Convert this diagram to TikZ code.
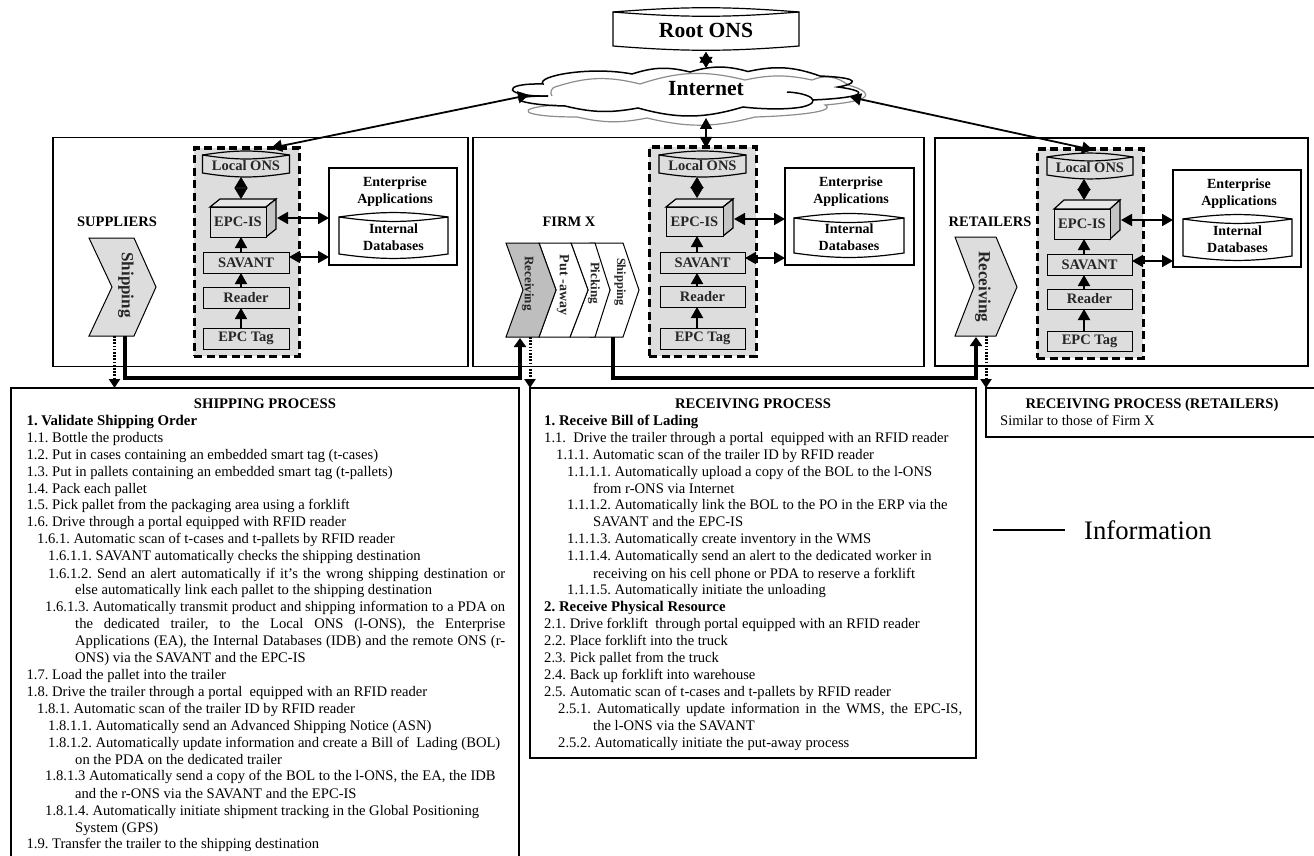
\documentclass[tikz,border=0pt]{standalone}
\usepackage{fontspec}
\setmainfont{Liberation Serif}
\usetikzlibrary{arrows.meta}
\frenchspacing
\definecolor{panelgray}{HTML}{DDDDDD}
\definecolor{cubetop}{HTML}{E8E8E8}
\definecolor{cubeside}{HTML}{C4C4C4}
\definecolor{recvgray}{HTML}{BEBEBE}
\definecolor{cloudgray}{HTML}{8C8C8C}
\newcounter{lbl}
\tikzset{
  x=1pt,y=-1pt,
  lab/.style={font=\fontsize{14.5}{17}\selectfont\bfseries,align=center,inner sep=0pt,text=black!85},
  elab/.style={font=\fontsize{14}{17}\selectfont\bfseries,align=center,inner sep=0pt},
  regionbox/.style={draw,line width=1.3pt,fill=none},
  panel/.style={draw,line width=3pt,dash pattern=on 8pt off 4.5pt,fill=panelgray,inner sep=0pt},
  device/.style={draw,line width=1pt,fill=panelgray,inner sep=0pt,lab},
  entbox/.style={draw,line width=1.2pt,fill=white,inner sep=0pt},
  procbox/.style={draw,line width=1.4pt,inner sep=0pt},
  chev/.style={draw,line width=1pt},
  chevlab/.style={inner sep=0pt,rotate=-90,font=\fontsize{17}{17}\selectfont\bfseries,text=black!85},
  arr/.style={line width=1.8pt,{Triangle[length=11pt,width=12pt]}-{Triangle[length=11pt,width=12pt]}},
  diam/.style={line width=.6pt,{Triangle[length=11pt,width=13pt]}-{Triangle[length=11pt,width=13pt]}},
  up/.style={line width=1.8pt,-{Triangle[length=11pt,width=12pt]}},
  flow/.style={line width=4.8pt,line join=miter,-{Triangle[length=9pt,width=12pt]}},
  dots/.style={line width=3pt,dash pattern=on 1.6pt off 1.6pt,-{Triangle[length=9pt,width=11pt]}},
  txt/.style={inner sep=0pt,anchor=base west,font=\fontsize{14.6}{15}\selectfont},
  txtb/.style={txt,font=\fontsize{14.8}{15}\selectfont\bfseries},
  ttl/.style={inner sep=0pt,anchor=base,font=\fontsize{14.65}{15}\selectfont\bfseries},
}
% line of text: x, y of mid line, text
\newcommand\tl[3]{\stepcounter{lbl}\node[txt] (t\thelbl) at (#1,#2+4.2) {#3};}
\newcommand\tb[3]{\stepcounter{lbl}\node[txtb] (t\thelbl) at (#1,#2+4.2) {#3};}
\newcommand\tj[4]{\stepcounter{lbl}\node[txt] (t\thelbl) at (#1,#2+4.2) {\makebox[#3pt][s]{#4}};}
% cylinder: name,x1,y1,x2,y2,r-bend,fill,style,text
\newcommand\cyl[9]{%
  \draw[line width=1.2pt,fill=#7] (#2,#3+4) to[bend left=#6] (#4,#3+4) -- (#4,#5-4) to[bend left=#6] (#2,#5-4) -- cycle;
  \draw[line width=1.2pt] (#2,#3+4) to[bend right=#6] (#4,#3+4);
  \node[#8,minimum width=#4pt-#2pt,minimum height=#5pt-#3pt] (#1) at ({(#2+#4)/2},{(#3+#5)/2+1.5}) {#9};}
% cube: name,x1,y1,x2,y2,dx,dy
\newcommand\cube[7]{%
  \draw[line width=1.2pt,fill=cubetop] (#2,#3) -- (#2+#6,#3-#7) -- (#4+#6,#3-#7) -- (#4,#3) -- cycle;
  \draw[line width=1.2pt,fill=cubeside] (#4,#3) -- (#4+#6,#3-#7) -- (#4+#6,#5-#7) -- (#4,#5) -- cycle;
  \node[device,minimum width=#4pt-#2pt,minimum height=#5pt-#3pt] (#1) at ({(#2+#4)/2},{(#3+#5)/2}) {EPC-IS};}
\begin{document}
\begin{tikzpicture}
\useasboundingbox (0,0) rectangle (1314,856);
% region boxes
\node[regionbox,minimum width=415pt,minimum height=229pt] (regS) at (260.5,252) {};
\node[regionbox,minimum width=451pt,minimum height=229pt] (regF) at (698.5,252) {};
\node[regionbox,minimum width=373pt,minimum height=228pt] (regR) at (1121.5,252) {};
% Root ONS and cloud
\cyl{root}{613}{8}{799}{50}{4.5}{white}{elab,font=\fontsize{21.6}{22}\selectfont\bfseries}{Root ONS}
% gray cloud
\draw[cloudgray,line width=1.2pt] (552,96) to[bend left=60] (555,87) to[bend left=16] (640,84)
  to[bend left=16] (745,80) to[bend left=12] (812,80) to[bend left=30] (848,85)
  .. controls (866,90) and (885,100) .. (825,105)
  .. controls (838,112) and (790,116) .. (755,117)
  to[bend left=14] (647,118) to[bend left=12] (577,117)
  .. controls (520,117) and (512,108) .. (556,105);
% black cloud
\draw[line width=1.5pt] (548,96) .. controls (505,97) and (498,83) .. (543,84)
  .. controls (536,76) and (590,66) .. (632,74)
  to[bend left=16] (690,72) to[bend left=16] (748,71.5) to[bend left=16] (820,76)
  .. controls (865,78) and (855,84) .. (838,87)
  .. controls (875,92) and (860,98) .. (812,100);
\draw[line width=1.5pt] (787,92) .. controls (810,93) and (824,102) .. (802,107) .. controls (785,110) and (760,109) .. (743,107)
  to[bend left=16] (638,108) to[bend left=12] (565,106)
  .. controls (520,105) and (497,96) .. (548,96);
\node[inner sep=0pt,font=\fontsize{21.6}{22}\selectfont\bfseries] (internet) at (706,89) {Internet};
\coordinate (cloudT) at (706,68);
\coordinate (cloudB) at (706,118);
\coordinate (cloudL) at (529,95);
\coordinate (cloudR) at (850,97);
\draw[diam] (root.south) -- (cloudT);

% SUPPLIERS
\node[panel,minimum width=105pt,minimum height=208pt] (pS) at (246.5,252) {};
\cyl{onsS}{202.5}{151}{289.5}{177}{9}{panelgray}{lab}{Local ONS}
\cube{isS}{210}{207}{266}{237}{10}{8}
\node[device,minimum width=86pt,minimum height=21pt] (savS) at (246,262.5) {SAVANT};
\node[device,minimum width=86pt,minimum height=21pt] (rdS) at (246,297.5) {Reader};
\node[device,minimum width=86pt,minimum height=21pt] (tagS) at (246,338.5) {EPC Tag};
\node[entbox,minimum width=128pt,minimum height=97pt] (entS) at (393,216.5) {};
\node[elab] (entlS) at (395,192) {Enterprise\\Applications};
\cyl{dbS}{339}{213}{448}{258}{8}{white}{elab}{Internal\\Databases}
\coordinate (sT) at (271,148);
\draw[arr] (cloudL) -- (sT);
\draw[diam] (241,177) coordinate (a1) -- (241,199) coordinate (a2);
\draw[up] (241,252) coordinate (a3) -- (241,237) coordinate (a4);
\draw[up] (241,287) coordinate (a5) -- (241,273) coordinate (a6);
\draw[up] (241,328) coordinate (a7) -- (241,308) coordinate (a8);
\coordinate (sE) at (277,218);
\coordinate (sEa) at (329,218);
\draw[arr] (sE) -- (sEa);
\coordinate (sS) at (289,257);
\coordinate (sSa) at (329,257);
\draw[arr] (sS) -- (sSa);
\draw[chev,fill=panelgray] (89,238) -- (134,238) -- (156,287) -- (134,336) -- (89,336) -- (112,287) -- cycle;
\node[chevlab] (chS) at (126,285) {Shipping};
\node[lab,text=black] (lblS) at (117,222) {SUPPLIERS};

% FIRM X
\node[panel,minimum width=107pt,minimum height=209pt] (pF) at (702.5,251.5) {};
\cyl{onsF}{659}{151}{746}{177}{9}{panelgray}{lab}{Local ONS}
\cube{isF}{666}{207}{723}{236}{10}{8}
\node[device,minimum width=85pt,minimum height=21pt] (savF) at (702.5,262.5) {SAVANT};
\node[device,minimum width=85pt,minimum height=21pt] (rdF) at (702.5,297) {Reader};
\node[device,minimum width=85pt,minimum height=21pt] (tagF) at (702.5,338.5) {EPC Tag};
\node[entbox,minimum width=129pt,minimum height=97pt] (entF) at (849.5,216.5) {};
\node[elab] (entlF) at (851,192) {Enterprise\\Applications};
\cyl{dbF}{794}{214}{904}{257}{8}{white}{elab}{Internal\\Databases}
\draw[arr] (cloudB) -- (706,148) coordinate (fT);
\draw[diam] (697,177) coordinate (b1) -- (697,198) coordinate (b2);
\draw[up] (697,252) coordinate (b3) -- (697,236) coordinate (b4);
\draw[up] (697,287) coordinate (b5) -- (697,273) coordinate (b6);
\draw[up] (697,328) coordinate (b7) -- (697,307) coordinate (b8);
\coordinate (fE) at (734,219);
\coordinate (fEa) at (785,219);
\draw[arr] (fE) -- (fEa);
\coordinate (fS) at (745,258);
\coordinate (fSa) at (785,258);
\draw[arr] (fS) -- (fSa);
\draw[chev,fill=white] (590,243) -- (623,243) -- (639,290) -- (623,337) -- (590,337) -- (610,290) -- cycle;
\draw[chev,fill=white] (571,243) -- (595,243) -- (610,290) -- (595,337) -- (570,337) -- (588,290) -- cycle;
\draw[chev,fill=white] (539,243) -- (571,243) -- (588,290) -- (570,337) -- (539,337) -- (556,290) -- cycle;
\draw[chev,fill=recvgray] (506,243) -- (539,243) -- (556,290) -- (539,337) -- (506,337) -- (523,290) -- cycle;
\node[chevlab,font=\fontsize{13}{13}\selectfont\bfseries] (chF1) at (528,283.5) {Receiving};
\node[chevlab,font=\fontsize{14}{14}\selectfont\bfseries] (chF2) at (563,285) {Put -away};
\node[chevlab,font=\fontsize{13}{13}\selectfont\bfseries] (chF3) at (594,283) {Picking};
\node[chevlab,font=\fontsize{12.5}{13}\selectfont\bfseries] (chF4) at (620,282) {Shipping};
\node[lab,text=black] (lblF) at (569,222) {FIRM X};

% RETAILERS
\node[panel,minimum width=106pt,minimum height=209pt] (pR) at (1090,253.5) {};
\cyl{onsR}{1047}{153}{1133}{179}{9}{panelgray}{lab}{Local ONS}
\cube{isR}{1054}{209}{1110}{239}{10}{9}
\node[device,minimum width=85pt,minimum height=21pt] (savR) at (1089.5,264.5) {SAVANT};
\node[device,minimum width=85pt,minimum height=20pt] (rdR) at (1089.5,299) {Reader};
\node[device,minimum width=85pt,minimum height=20pt] (tagR) at (1089.5,341) {EPC Tag};
\node[entbox,minimum width=128pt,minimum height=97pt] (entR) at (1237,218.5) {};
\node[elab] (entlR) at (1239,194) {Enterprise\\Applications};
\cyl{dbR}{1183}{215}{1292}{260}{8}{white}{elab}{Internal\\Databases}
\coordinate (rT) at (1093,150);
\draw[arr] (cloudR) -- (rT);
\draw[diam] (1084,179) coordinate (c1) -- (1084,200) coordinate (c2);
\draw[up] (1084,254) coordinate (c3) -- (1084,239) coordinate (c4);
\draw[up] (1084,289) coordinate (c5) -- (1084,275) coordinate (c6);
\draw[up] (1084,331) coordinate (c7) -- (1084,309) coordinate (c8);
\coordinate (rE) at (1121,220);
\coordinate (rEa) at (1173,220);
\draw[arr] (rE) -- (rEa);
\coordinate (rS) at (1132,261);
\coordinate (rSa) at (1173,261);
\draw[arr] (rS) -- (rSa);
\draw[chev,fill=panelgray] (955,237) -- (996,237) -- (1017,287) -- (996,336) -- (955,336) -- (974,287) -- cycle;
\node[chevlab] (chR) at (983,287) {Receiving};
\node[lab,text=black] (lblR) at (990,222) {RETAILERS};

% flows
\coordinate (sb1) at (125,336);
\coordinate (sb2) at (125,378);
\coordinate (sb3) at (520,378);
\coordinate (sb4) at (520,338);
\draw[flow] (sb1) -- (sb2) -- (sb3) -- (sb4);
\coordinate (fb1) at (613,337);
\coordinate (fb2) at (613,378);
\coordinate (fb3) at (976,378);
\coordinate (fb4) at (976,337);
\draw[flow] (fb1) -- (fb2) -- (fb3) -- (fb4);
\coordinate (d1a) at (114.5,336);
\coordinate (d1b) at (114.5,388);
\coordinate (d2a) at (530,337);
\coordinate (d2b) at (530,388);
\coordinate (d3a) at (986,336);
\coordinate (d3b) at (986,388);
\draw[dots] (d1a) -- (d1b);
\draw[dots] (d2a) -- (d2b);
\draw[dots] (d3a) -- (d3b);

% SHIPPING PROCESS
\draw[procbox] (11,856) -- (11,388) -- (519,388) -- (519,856);
\node[ttl] (ttlS) at (265,408.5) {SHIPPING PROCESS};
\tb{26.4}{421}{1. Validate Shipping Order}
\tl{26.4}{438.3}{1.1. Bottle the products}
\tl{26.4}{455.3}{1.2. Put in cases containing an embedded smart tag (t-cases)}
\tl{26.4}{472.3}{1.3. Put in pallets containing an embedded smart tag (t-pallets)}
\tl{26.4}{489.3}{1.4. Pack each pallet}
\tl{26.4}{505.7}{1.5. Pick pallet from the packaging area using a forklift}
\tl{26.4}{522.7}{1.6. Drive through a portal equipped with RFID reader}
\tl{37}{539.7}{1.6.1. Automatic scan of t-cases and t-pallets by RFID reader}
\tl{48}{556.3}{1.6.1.1. SAVANT automatically checks the shipping destination}
\tj{48}{574}{457}{1.6.1.2. Send an alert automatically if it’s the wrong shipping destination or}
\tl{75}{590.7}{else automatically link each pallet to the shipping destination}
\tj{45}{607.7}{460}{1.6.1.3. Automatically transmit product and shipping information to a PDA on}
\tj{75}{624.7}{430}{the dedicated trailer, to the Local ONS (l-ONS), the Enterprise}
\tj{75}{641.7}{430}{Applications (EA), the Internal Databases (IDB) and the remote ONS (r-}
\tl{75}{658}{ONS) via the SAVANT and the EPC-IS}
\tl{26.4}{675.7}{1.7. Load the pallet into the trailer}
\tl{26.4}{692.7}{1.8. Drive the trailer through a portal\ \ equipped with an RFID reader}
\tl{37}{709.3}{1.8.1. Automatic scan of the trailer ID by RFID reader}
\tl{48}{726.7}{1.8.1.1. Automatically send an Advanced Shipping Notice (ASN)}
\tl{48}{743.3}{1.8.1.2. Automatically update information and create a Bill of\ \ Lading (BOL)}
\tl{75}{760.3}{on the PDA on the dedicated trailer}
\tl{45}{776.7}{1.8.1.3 Automatically send a copy of the BOL to the l-ONS, the EA, the IDB}
\tl{75}{794.3}{and the r-ONS via the SAVANT and the EPC-IS}
\tl{45}{811.3}{1.8.1.4. Automatically initiate shipment tracking in the Global Positioning}
\tl{75}{828.3}{System (GPS)}
\tl{26.4}{844.3}{1.9. Transfer the trailer to the shipping destination}

% RECEIVING PROCESS
\node[procbox,minimum width=446pt,minimum height=370pt] (boxF) at (753,573) {};
\node[ttl] (ttlF) at (753,408.5) {RECEIVING PROCESS};
\tb{544}{421}{1. Receive Bill of Lading}
\tl{544}{438.3}{1.1.\ \ Drive the trailer through a portal\ \ equipped with an RFID reader}
\tl{556}{455.3}{1.1.1. Automatic scan of the trailer ID by RFID reader}
\tl{567}{472.3}{1.1.1.1. Automatically upload a copy of the BOL to the l-ONS}
\tl{593}{489.3}{from r-ONS via Internet}
\tl{567}{505.7}{1.1.1.2. Automatically link the BOL to the PO in the ERP via the}
\tl{593}{522.7}{SAVANT and the EPC-IS}
\tl{567}{539.7}{1.1.1.3. Automatically create inventory in the WMS}
\tl{567}{556.3}{1.1.1.4. Automatically send an alert to the dedicated worker in}
\tl{593}{574}{receiving on his cell phone or PDA to reserve a forklift}
\tl{567}{590.7}{1.1.1.5. Automatically initiate the unloading}
\tb{544}{607.7}{2. Receive Physical Resource}
\tl{544}{624.7}{2.1. Drive forklift\ \ through portal equipped with an RFID reader}
\tl{544}{641.7}{2.2. Place forklift into the truck}
\tl{544}{658}{2.3. Pick pallet from the truck}
\tl{544}{675.7}{2.4. Back up forklift into warehouse}
\tl{544}{692.7}{2.5. Automatic scan of t-cases and t-pallets by RFID reader}
\tj{558}{709.3}{404}{2.5.1. Automatically update information in the WMS, the EPC-IS,}
\tl{593}{726.7}{the l-ONS via the SAVANT}
\tl{558}{743.3}{2.5.2. Automatically initiate the put-away process}

% RECEIVING PROCESS (RETAILERS)
\draw[procbox] (1314,388) -- (986,388) -- (986,437) -- (1314,437);
\node[ttl] (ttlR) at (1152,408.5) {RECEIVING PROCESS (RETAILERS)};
\tl{1000}{421}{Similar to those of Firm X}

% legend
\node[inner sep=0pt,anchor=base west,font=\fontsize{26.7}{27}\selectfont] (info) at (1084,539) {Information};
\coordinate (legA) at (993,530);
\coordinate (legB) at (1065,530);
\draw[line width=1.2pt] (legA) -- (legB);
\end{tikzpicture}
\end{document}
